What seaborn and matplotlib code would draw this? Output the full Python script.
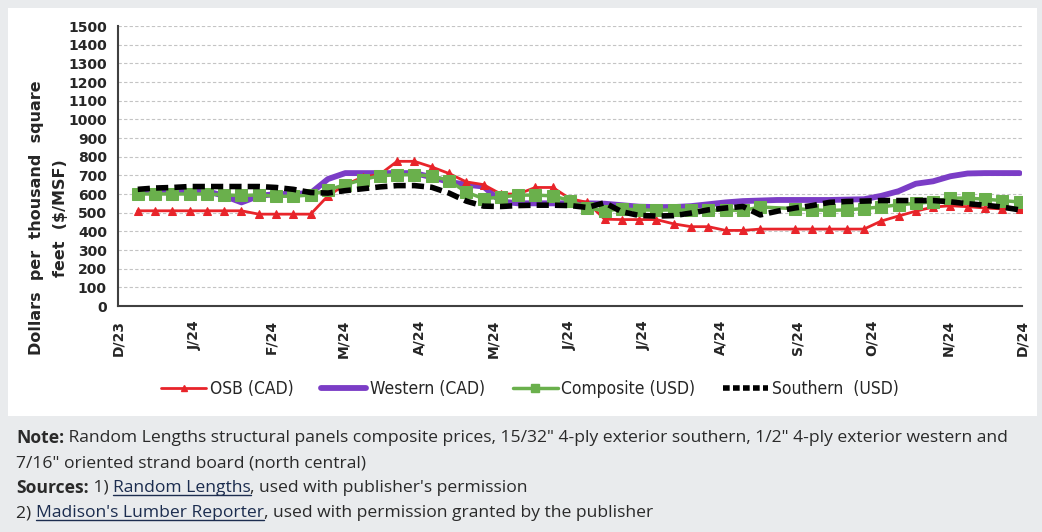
import numpy as np
import pandas as pd
import seaborn as sns
import matplotlib
matplotlib.use('Agg')
from matplotlib import pyplot as plt
from matplotlib.patches import Rectangle
from matplotlib.lines import Line2D
import matplotlib.dates as mdates

# weekly prices, $/MSF (None = no quote that week)
dates = pd.date_range('2023-12-09', periods=52, freq='7D')
osb = [510, 510, 510, 510, 510, 510, 510, 492, 492, 492,
       492, 590, 650, 690, 705, 775, 775, 745, 710, 665,
       650, 600, 600, 635, 635, 575, 555, 465, 463, 463,
       463, 440, 425, 425, 405, 405, 412, None, 412, 412,
       412, 412, 412, 455, 482, 508, 530, 537, 532, 525,
       520, 520]
western = [615, 615, 615, 615, 615, 590, 555, 590, 600, 600,
           605, 680, 712, 712, 712, 712, 712, 690, 665, 650,
           640, 560, 550, 550, 550, 550, 550, 548, 540, 532,
           530, 530, 535, 545, 555, 562, 565, 568, 568, 568,
           568, 570, 572, 590, 615, 655, 668, 695, 710, 712,
           712, 712]
composite = [600, 600, 600, 600, 600, 595, 592, 595, 588, 588,
             595, 622, 650, 677, 698, 703, 703, 697, 672, 610,
             575, 583, 594, 594, 590, 565, 525, 510, 520, 515,
             513, 515, 513, 513, 513, 512, 530, None, 522, 515,
             512, 515, 522, 531, 542, 550, 558, 578, 578, 572,
             565, 557]
southern = [625, 632, 635, 640, 640, 640, 640, 640, 635, 625,
            608, 605, 618, 628, 638, 645, 645, 636, 605, 562,
            535, 533, 538, 540, 540, 538, 528, 553, 505, 485,
            482, 484, 498, 515, 525, 533, 488, 508, 525, 538,
            555, 560, 562, 565, 565, 565, 565, 558, 548, 540,
            530, 515]

series_names = ['OSB (CAD)', 'Western (CAD)', 'Composite (USD)', 'Southern  (USD)']
month_labels = ['D/23', 'J/24', 'F/24', 'M/24', 'A/24', 'M/24', 'J/24',
                'J/24', 'A/24', 'S/24', 'O/24', 'N/24', 'D/24']
y_ticks = list(range(0, 1501, 100))

sns.set_style('white')
plt.rcParams['font.family'] = ['DejaVu Sans']

fig = plt.figure(figsize=(10.42, 5.32), dpi=100)
fig.patch.set_facecolor('#e9ebed')
W, H = 1042, 532
fig.add_artist(Rectangle((8 / W, 1 - 416 / H), (1037 - 8) / W, (416 - 8) / H,
                         transform=fig.transFigure, facecolor='white', edgecolor='none', zorder=0))

ax = fig.add_axes([118 / W, 1 - 306 / H, (1022 - 118) / W, (306 - 26) / H])
ax.set_facecolor('none')

df = pd.DataFrame({'date': dates, 'osb': osb, 'western': western,
                   'composite': composite, 'southern': southern})

sns.lineplot(data=df, x='date', y='western', color='#7b3dc6', lw=4.2, ax=ax, zorder=3)
d = df.dropna(subset=['osb'])
sns.lineplot(data=d, x='date', y='osb', color='#e8242a', lw=2, marker='^', markersize=6,
             markeredgecolor='#e8242a', ax=ax, zorder=4)
d = df.dropna(subset=['composite'])
sns.lineplot(data=d, x='date', y='composite', color='#6ab04c', lw=2.5, marker='s', markersize=8.5,
             markeredgecolor='#6ab04c', ax=ax, zorder=5)
sns.lineplot(data=df, x='date', y='southern', color='black', lw=4, linestyle=(0, (2.2, 1.1)),
             ax=ax, zorder=6)

ax.set_xlim(pd.Timestamp('2023-12-01'), pd.Timestamp('2024-12-01'))
ax.set_ylim(0, 1500)
ax.set_yticks(y_ticks)
ax.set_yticklabels([str(v) for v in y_ticks], fontsize=10, fontweight='bold')
month_ticks = pd.date_range('2023-12-01', periods=13, freq='MS')
ax.set_xticks(month_ticks)
ax.set_xticklabels(month_labels, rotation=90, fontsize=10, fontweight='bold')
ax.set_xlabel('')
ax.set_ylabel('')
ax.grid(axis='y', ls=(0, (3, 2)), lw=0.8, color='#c4c4c4')
ax.grid(axis='x', visible=False)
for s in ['top', 'right']:
    ax.spines[s].set_visible(False)
for s in ['left', 'bottom']:
    ax.spines[s].set_color('#404040')
    ax.spines[s].set_linewidth(1.5)
ax.tick_params(axis='both', direction='out', length=5, width=1.3, color='#404040', pad=3)
ax.tick_params(axis='x', pad=5)

fig.text(37 / W, 1 - 218 / H, 'Dollars  per  thousand  square', rotation=90, ha='center', va='center',
         fontsize=11.5, fontweight='bold')
fig.text(60 / W, 1 - 218 / H, 'feet  ($/MSF)', rotation=90, ha='center', va='center',
         fontsize=11.5, fontweight='bold')

handles = [
    Line2D([], [], color='#e8242a', lw=2, marker='^', markersize=5),
    Line2D([], [], color='#7b3dc6', lw=4.2),
    Line2D([], [], color='#6ab04c', lw=2.5, marker='s', markersize=6),
    Line2D([], [], color='black', lw=4, linestyle=(0, (1.2, 0.6))),
]
fig.legend(handles, series_names, loc='center', bbox_to_anchor=(530 / W, 1 - 389 / H), ncol=4,
           frameon=False, handlelength=2.6, handletextpad=0.2, columnspacing=1.6,
           prop={'family': 'DejaVu Sans', 'stretch': 'condensed', 'size': 12.5})

# footnote
txt_color = '#2a2a2a'
link_color = '#1c2d4f'
fs = 12.6
fig.canvas.draw()
r = fig.canvas.get_renderer()


def put(parts, x, y):
    for s, weight, link in parts:
        t = fig.text(x / W, 1 - y / H, s, fontsize=fs, fontweight=weight, family='Open Sans',
                     color=link_color if link else txt_color, va='center', ha='left')
        bb = t.get_window_extent(renderer=r)
        if link:
            fig.add_artist(Line2D([bb.x0 / W, bb.x1 / W], [(bb.y0 + 1) / H] * 2, color=link_color,
                                  lw=1, transform=fig.transFigure))
        x = bb.x1


put([('Note:', 'bold', False),
     (' Random Lengths structural panels composite prices, 15/32" 4-ply exterior southern, 1/2" 4-ply exterior western and',
      'normal', False)], 16, 438)
put([('7/16" oriented strand board (north central)', 'normal', False)], 16, 463)
put([('Sources:', 'bold', False), (' 1) ', 'normal', False), ('Random Lengths', 'normal', True),
     (", used with publisher's permission", 'normal', False)], 16, 488)
put([('2) ', 'normal', False), ("Madison's Lumber Reporter", 'normal', True),
     (', used with permission granted by the publisher', 'normal', False)], 16, 513)

fig.savefig('out.png', dpi=100, facecolor=fig.get_facecolor())
